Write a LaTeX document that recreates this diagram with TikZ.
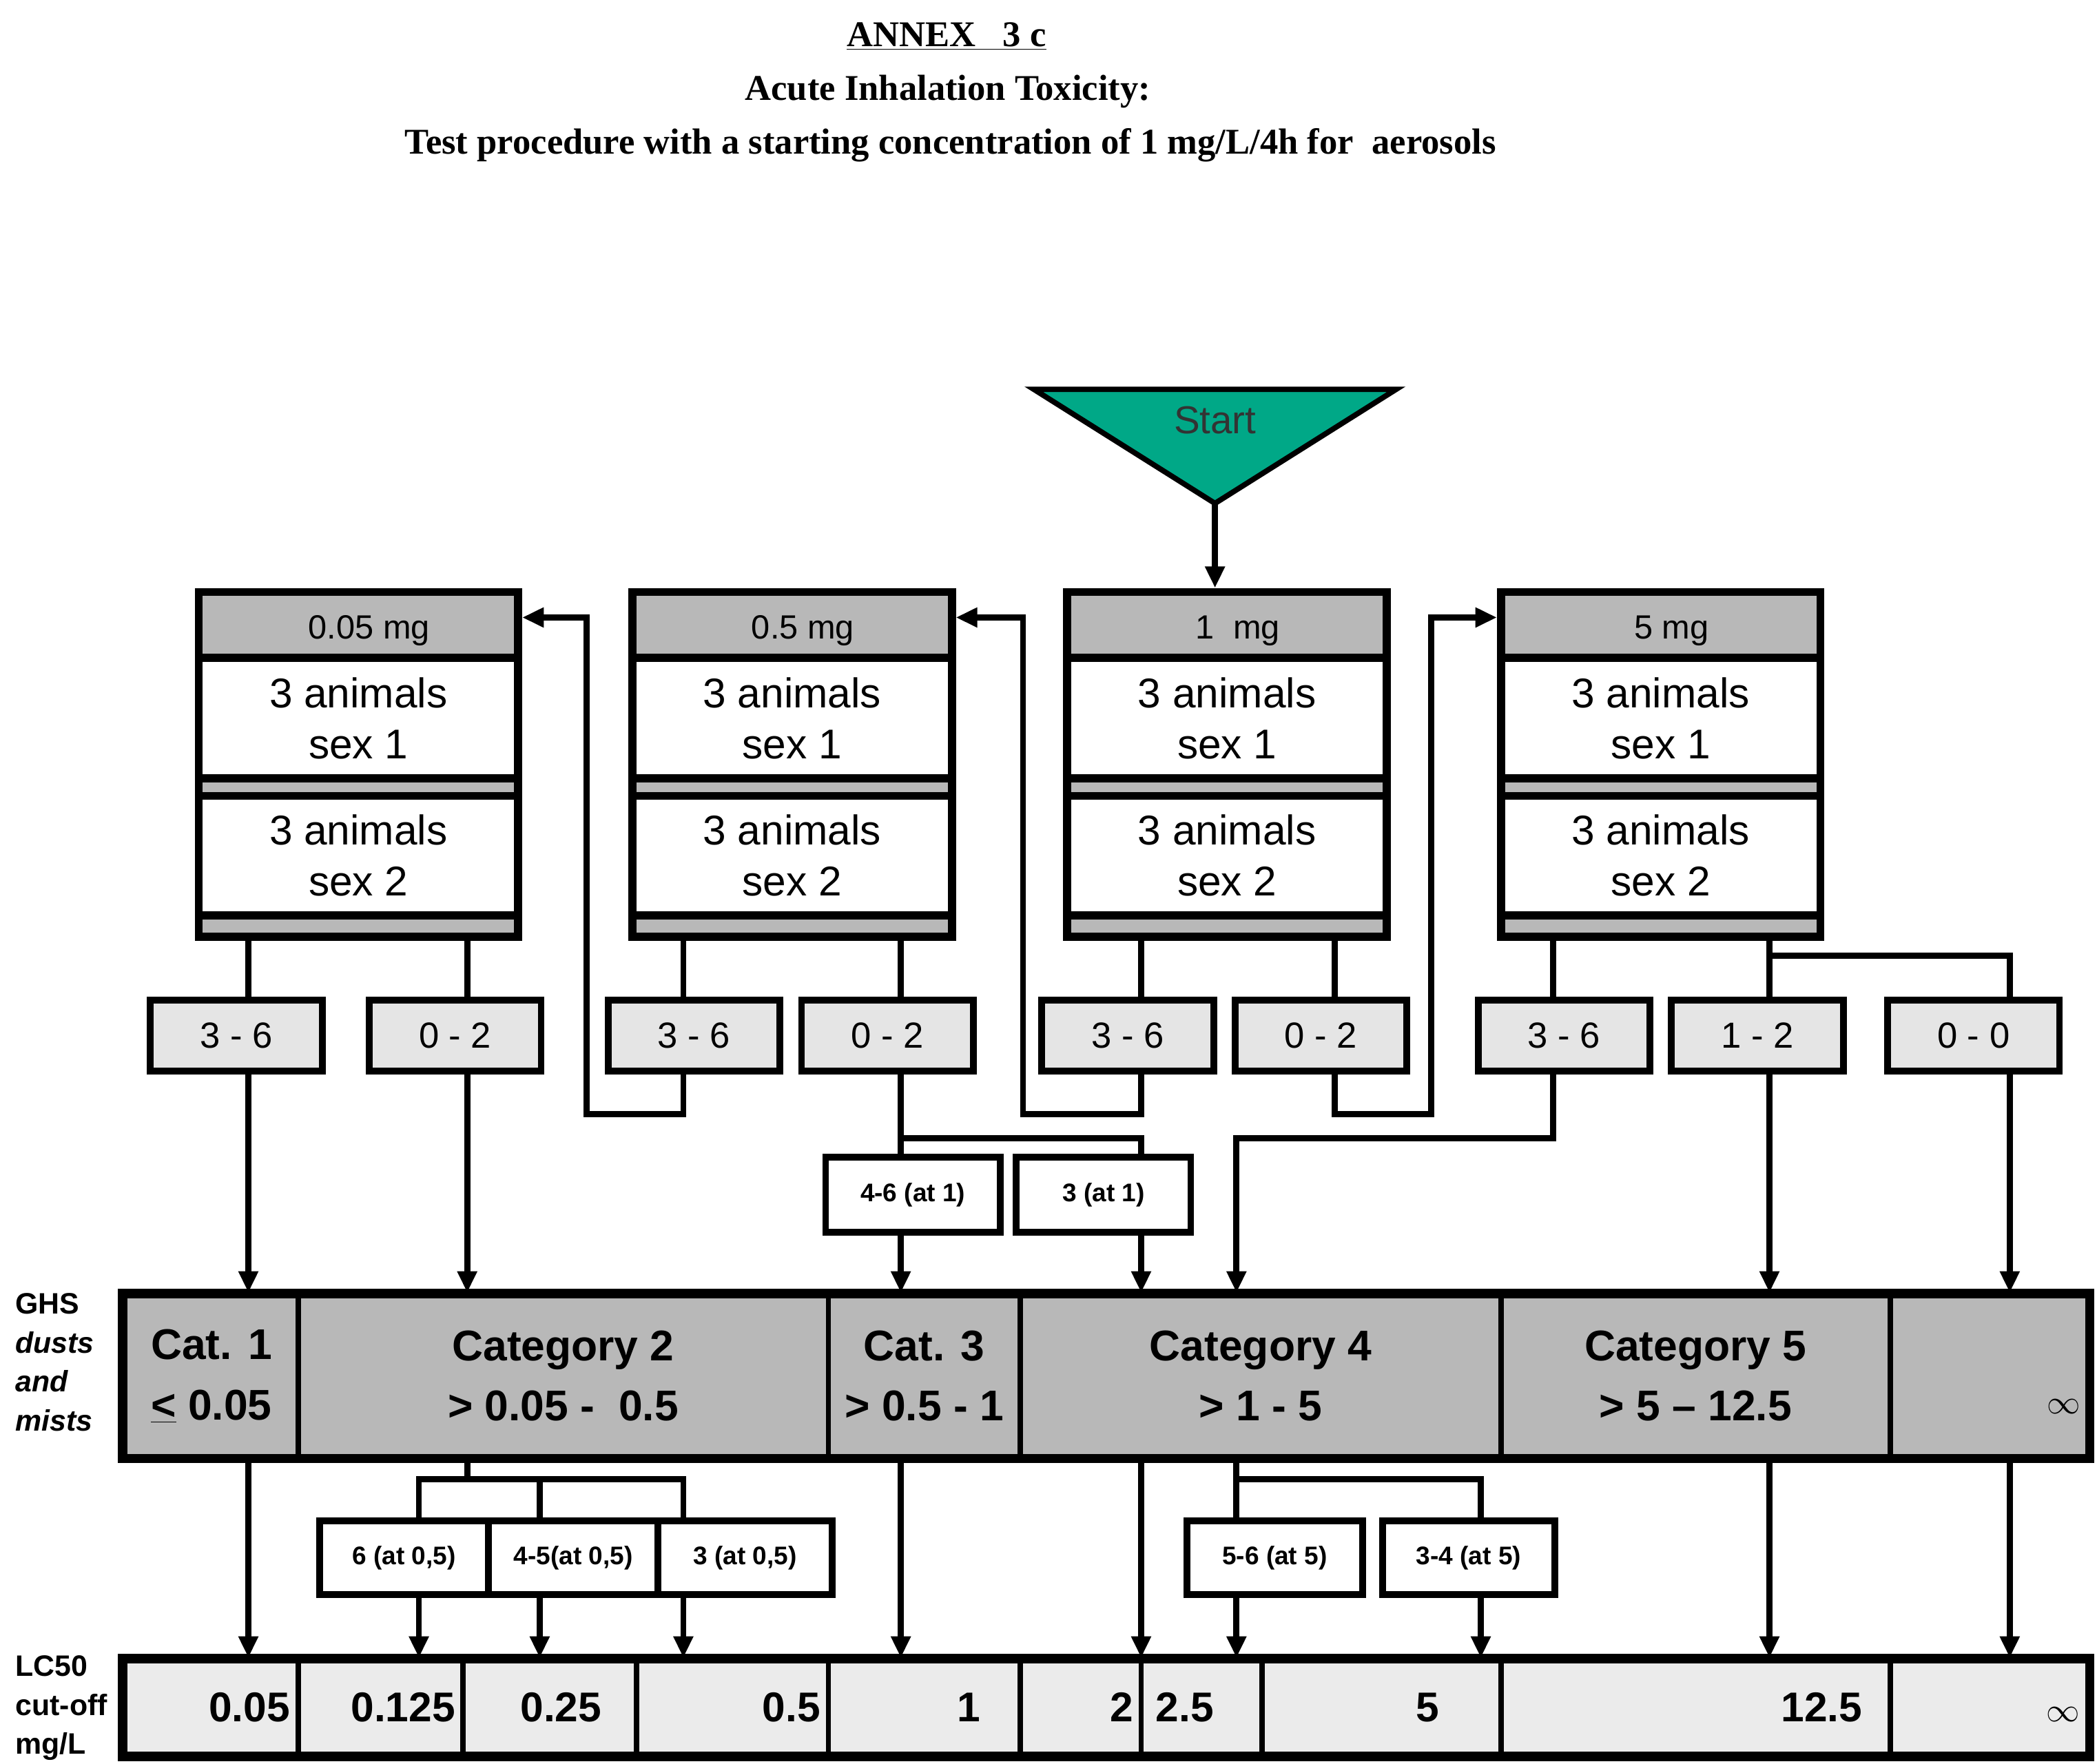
\documentclass[tikz,border=0pt]{standalone}
\usepackage{fontspec}
\setmainfont{Liberation Sans}
\newfontfamily\serifb{Liberation Serif}
\usetikzlibrary{arrows.meta}
\begin{document}
\begin{tikzpicture}[x=1pt,y=-1pt,
 ln/.style={line width=4.5pt},
 arr/.style={line width=4.5pt,-{Triangle[length=16pt,width=14pt]}},
 dose/.style={draw,line width=6pt,fill=black!28,inner sep=0pt},
 inner/.style={draw,line width=6pt,fill=white,inner sep=0pt,align=center,font=\fontsize{31}{38}\selectfont},
 res/.style={draw,line width=5pt,fill=black!10,inner sep=0pt,font=\fontsize{27}{30}\selectfont},
 small/.style={draw,line width=5pt,fill=white,inner sep=0pt,font=\bfseries\fontsize{19}{22}\selectfont},
 ghs/.style={draw,line width=4pt,fill=black!28,inner sep=0pt,align=center,font=\bfseries\fontsize{32}{45}\selectfont},
 lc/.style={draw,line width=4pt,fill=black!8,inner sep=0pt,font=\bfseries\fontsize{31}{34}\selectfont},
 side/.style={font=\bfseries\fontsize{22}{29}\selectfont,align=left,anchor=north west}]
\newcommand\bx[7]{\node[#6,minimum width={(#4-#2)*1pt},minimum height={(#5-#3)*1pt}] (#1) at ({(#2+#4)/2},{(#3+#5)/2}) {#7};}
\newcommand\lcx[5]{\node[lc,minimum width={(#3-#2)*1pt},minimum height=70pt,text width={(#3-#2-12)*1pt},align=right] (#1) at ({(#2+#3)/2},1272) {#4\vphantom{0}#5};}
\useasboundingbox (0,0) rectangle (1562,1314);
% title
\node[font=\serifb\bfseries\fontsize{27}{30}\selectfont] (t1) at (705,27) {\underline{ANNEX\ \ \ 3 c}};
\node[font=\serifb\bfseries\fontsize{27}{30}\selectfont] (t2) at (706,68) {Acute Inhalation Toxicity:};
\node[font=\serifb\bfseries\fontsize{27}{30}\selectfont] (t3) at (708,108) {Test procedure with a starting concentration of 1 mg/L/4h for\ \ aerosols};
% start
\draw[line width=4pt,fill={rgb,255:red,0;green,168;blue,135}] (770,290) -- (1040,290) -- (905,375) -- cycle;
\node[font=\fontsize{29}{32}\selectfont,text=black!80] (start) at (905,313) {Start};
\coordinate (tip) at (905,375);
% columns
\foreach \c in {185,348,509,671,850,994,1157,1318,1497,437,762,1066,921,312,402,1103} {\coordinate (k\c) at (\c,0);}
\foreach \r in {460,712,830,848,1102} {\coordinate (w\r) at (0,\r);}
% dose boxes
\foreach \i/\xa/\lab in {1/148/0.05 mg/L,2/471/0.5 mg/L,3/795/1\ \ mg/L,4/1118/5 mg/L} {
 \bx{d\i}{\xa}{441}{\xa+238}{698}{dose}{}
 \node[font=\fontsize{25}{28}\selectfont] (l\i) at (\xa+119+8,470) {\lab};
 \bx{s\i a}{\xa+17}{490}{\xa+221}{580}{inner}{3 animals\\sex 1}
 \bx{s\i b}{\xa+17}{593}{\xa+221}{682}{inner}{3 animals\\sex 2}
}
\draw[arr] (tip) -- (d3.north -| tip);
% result boxes
\foreach \i/\xa/\t in {1/112/3 - 6,2/275/0 - 2,3/453/3 - 6,4/597/0 - 2,5/776/3 - 6,6/920/0 - 2,7/1101/3 - 6,8/1245/1 - 2,9/1406/0 - 0}
 {\bx{r\i}{\xa}{745}{\xa+128}{798}{res}{\t}}
% at-1 boxes
\bx{a1}{615}{862}{745}{918}{small}{4-6 (at 1)}
\bx{a2}{757}{862}{887}{918}{small}{3 (at 1)}
% GHS row
\bx{g1}{93}{965}{222}{1085}{ghs}{Cat. 1\\\underline{<} 0.05}
\bx{g2}{222}{965}{617}{1085}{ghs}{Category 2\\> 0.05 -\ \ 0.5}
\bx{g3}{617}{965}{760}{1085}{ghs}{Cat. 3\\> 0.5 - 1}
\bx{g4}{760}{965}{1118}{1085}{ghs}{Category 4\\> 1 - 5}
\bx{g5}{1118}{965}{1408}{1085}{ghs}{Category 5\\> 5 -- 12.5}
\bx{g6}{1408}{965}{1555}{1085}{ghs}{}
\node[font=\bfseries\fontsize{32}{36}\selectfont,anchor=east] (inf1) at (1553,1048) {$\infty$};
\draw[line width=6pt] (g1.north west) rectangle (g6.south east);
\node[side] (ghsl) at (8,960) {GHS\\\textit{dusts}\\\textit{and}\\\textit{mists}};
% lower small boxes
\bx{b1}{238}{1133}{364}{1188}{small}{6 (at 0,5)}
\bx{b2}{364}{1133}{490}{1188}{small}{4-5(at 0,5)}
\bx{b3}{490}{1133}{620}{1188}{small}{3 (at 0,5)}
\bx{b4}{884}{1133}{1015}{1188}{small}{5-6 (at 5)}
\bx{b5}{1030}{1133}{1158}{1188}{small}{3-4 (at 5)}
% LC50 row
\lcx{c1}{93}{222}{0.05}{}
\lcx{c2}{222}{345}{0.125}{}
\lcx{c3}{345}{474}{0.25\hspace*{20pt}}{}
\lcx{c4}{474}{617}{0.5}{}
\lcx{c5}{617}{760}{1\hspace*{24pt}}{}
\lcx{c6}{760}{850}{2}{}
\lcx{c7}{850}{940}{2.5\hspace*{30pt}}{}
\lcx{c8}{940}{1118}{5\hspace*{40pt}}{}
\lcx{c9}{1118}{1408}{12.5\hspace*{15pt}}{}
\lcx{c10}{1408}{1555}{$\infty$}{}
\draw[line width=6pt] (c1.north west) rectangle (c10.south east);
\node[side] (lcl) at (8,1230) {LC50\\cut-off\\mg/L};
% connectors: dose boxes to results
\draw[ln] (k185 |- d1.south) -- (k185 |- r1.north);
\draw[ln] (k348 |- d1.south) -- (k348 |- r2.north);
\draw[ln] (k509 |- d2.south) -- (k509 |- r3.north);
\draw[ln] (k671 |- d2.south) -- (k671 |- r4.north);
\draw[ln] (k850 |- d3.south) -- (k850 |- r5.north);
\draw[ln] (k994 |- d3.south) -- (k994 |- r6.north);
\draw[ln] (k1157 |- d4.south) -- (k1157 |- r7.north);
\draw[ln] (k1318 |- d4.south) -- (k1318 |- r8.north);
\draw[ln] (k1318 |- w712) -- (k1497 |- w712) -- (k1497 |- r9.north);
% results to GHS
\draw[arr] (k185 |- r1.south) -- (k185 |- g1.north);
\draw[arr] (k348 |- r2.south) -- (k348 |- g2.north);
\draw[arr] (k509 |- r3.south) -- (k509 |- w830) -- (k437 |- w830) -- (k437 |- w460) -- (d1.east |- w460);
\draw[ln] (k671 |- r4.south) -- (k671 |- a1.north);
\draw[ln] (k671 |- w848) -- (k850 |- w848) -- (k850 |- a2.north);
\draw[arr] (k671 |- a1.south) -- (k671 |- g3.north);
\draw[arr] (k850 |- a2.south) -- (k850 |- g4.north);
\draw[arr] (k850 |- r5.south) -- (k850 |- w830) -- (k762 |- w830) -- (k762 |- w460) -- (d2.east |- w460);
\draw[arr] (k994 |- r6.south) -- (k994 |- w830) -- (k1066 |- w830) -- (k1066 |- w460) -- (d4.west |- w460);
\draw[arr] (k1157 |- r7.south) -- (k1157 |- w848) -- (k921 |- w848) -- (k921 |- g4.north);
\draw[arr] (k1318 |- r8.south) -- (k1318 |- g5.north);
\draw[arr] (k1497 |- r9.south) -- (k1497 |- g6.north);
% GHS to LC50
\draw[arr] (k185 |- g1.south) -- (k185 |- c1.north);
\draw[ln] (k348 |- g2.south) -- (k348 |- w1102);
\draw[ln] (k312 |- b1.north) -- (k312 |- w1102) -- (k509 |- w1102) -- (k509 |- b3.north);
\draw[ln] (k402 |- w1102) -- (k402 |- b2.north);
\draw[arr] (k312 |- b1.south) -- (k312 |- c2.north);
\draw[arr] (k402 |- b2.south) -- (k402 |- c3.north);
\draw[arr] (k509 |- b3.south) -- (k509 |- c4.north);
\draw[arr] (k671 |- g3.south) -- (k671 |- c5.north);
\draw[arr] (k850 |- g4.south) -- (k850 |- c7.north);
\draw[ln] (k921 |- g4.south) -- (k921 |- b4.north);
\draw[ln] (k921 |- w1102) -- (k1103 |- w1102) -- (k1103 |- b5.north);
\draw[arr] (k921 |- b4.south) -- (k921 |- c7.north);
\draw[arr] (k1103 |- b5.south) -- (k1103 |- c8.north);
\draw[arr] (k1318 |- g5.south) -- (k1318 |- c9.north);
\draw[arr] (k1497 |- g6.south) -- (k1497 |- c10.north);
\end{tikzpicture}
\end{document}
